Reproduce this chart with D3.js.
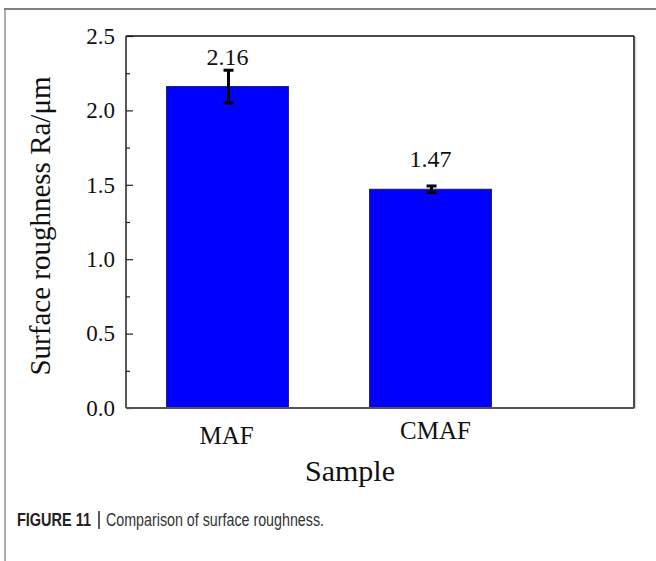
<!DOCTYPE html>
<html>
<head>
<meta charset="utf-8">
<script src="https://cdn.jsdelivr.net/npm/d3@7"></script>
<style>
  html, body { margin: 0; padding: 0; background: #fff; }
  svg { display: block; }
</style>
</head>
<body>
<svg id="chart" width="656" height="561"></svg>
<script>
// Surface roughness per finishing process (mean with error)
const categories = ["MAF", "CMAF"];
const roughness = [2.16, 1.47];
const roughnessErr = [0.11, 0.022];
const yMajorTicks = [0.0, 0.5, 1.0, 1.5, 2.0, 2.5];
const yMinorTicks = [0.25, 0.75, 1.25, 1.75, 2.25];

const svg = d3.select("#chart");
const serif = "'Liberation Serif', 'Times New Roman', serif";
const sans = "'Liberation Sans', Arial, sans-serif";

// page frame lines
svg.append("line").attr("x1", 4).attr("x2", 656).attr("y1", 9).attr("y2", 9)
  .attr("stroke", "#808080").attr("stroke-width", 2);
svg.append("line").attr("x1", 5).attr("x2", 5).attr("y1", 9).attr("y2", 561)
  .attr("stroke", "#808080").attr("stroke-width", 1.3);

const plot = { left: 126, top: 36, right: 634, bottom: 408 };

const x = d3.scaleBand()
  .domain(categories)
  .range([plot.left, plot.left + 406])
  .paddingInner(0.4)
  .paddingOuter(0.2);

const y = d3.scaleLinear().domain([0, 2.5]).range([plot.bottom, plot.top]);

const g = svg.append("g");

// bars
g.selectAll("rect.bar")
  .data(categories)
  .join("rect")
  .attr("class", "bar")
  .attr("x", d => x(d))
  .attr("width", x.bandwidth())
  .attr("y", (d, i) => y(roughness[i]))
  .attr("height", (d, i) => y(0) - y(roughness[i]))
  .attr("fill", "#0000ff")
  .attr("stroke", "#1a1a5a")
  .attr("stroke-width", 1);

// error bars
const eb = g.selectAll("g.err")
  .data(categories)
  .join("g")
  .attr("class", "err")
  .attr("transform", d => `translate(${x(d) + x.bandwidth() / 2 + 1},0)`);
eb.append("line")
  .attr("x1", 0).attr("x2", 0)
  .attr("y1", (d, i) => y(roughness[i] + roughnessErr[i]))
  .attr("y2", (d, i) => y(roughness[i] - roughnessErr[i]))
  .attr("stroke", "#000").attr("stroke-width", 3);
eb.append("line")
  .attr("x1", -5).attr("x2", 5)
  .attr("y1", (d, i) => y(roughness[i] + roughnessErr[i]))
  .attr("y2", (d, i) => y(roughness[i] + roughnessErr[i]))
  .attr("stroke", "#000").attr("stroke-width", 3);
eb.append("line")
  .attr("x1", -5).attr("x2", 5)
  .attr("y1", (d, i) => y(roughness[i] - roughnessErr[i]))
  .attr("y2", (d, i) => y(roughness[i] - roughnessErr[i]))
  .attr("stroke", "#000").attr("stroke-width", 3);

// value labels
g.selectAll("text.val")
  .data(categories)
  .join("text")
  .attr("class", "val")
  .attr("x", d => x(d) + x.bandwidth() / 2)
  .attr("y", (d, i) => y(roughness[i]) - 22)
  .attr("text-anchor", "middle")
  .attr("font-family", serif)
  .attr("font-size", 24)
  .attr("fill", "#111")
  .text((d, i) => roughness[i].toFixed(2));

// y axis, major ticks pointing inward
const yAxis = d3.axisLeft(y)
  .tickValues(yMajorTicks)
  .tickSizeInner(-7)
  .tickSizeOuter(0)
  .tickPadding(11)
  .tickFormat(d3.format(".1f"));
const ya = svg.append("g").attr("transform", `translate(${plot.left},0)`).call(yAxis);
ya.attr("font-family", serif);
ya.select(".domain").remove();
ya.selectAll(".tick line").attr("stroke", "#222").attr("stroke-width", 1.2);
ya.selectAll(".tick text")
  .attr("font-family", serif)
  .attr("font-size", 23)
  .attr("fill", "#111")
  .attr("x", -11)
  .attr("text-anchor", "end");

// y axis, minor ticks
const yMinor = d3.axisLeft(y)
  .tickValues(yMinorTicks)
  .tickSizeInner(-4)
  .tickSizeOuter(0)
  .tickFormat("");
const ym = svg.append("g").attr("transform", `translate(${plot.left},0)`).call(yMinor);
ym.select(".domain").remove();
ym.selectAll(".tick line").attr("stroke", "#222").attr("stroke-width", 1.2);

// frame around plot area
svg.append("line").attr("x1", plot.right + 1.5).attr("x2", plot.right + 1.5)
  .attr("y1", plot.top + 1).attr("y2", plot.bottom + 1)
  .attr("stroke", "#d8d8d8").attr("stroke-width", 1.5);
svg.append("line").attr("x1", plot.left).attr("x2", plot.right)
  .attr("y1", plot.top).attr("y2", plot.top).attr("stroke", "#111").attr("stroke-width", 1.5);
svg.append("line").attr("x1", plot.right).attr("x2", plot.right)
  .attr("y1", plot.top).attr("y2", plot.bottom).attr("stroke", "#111").attr("stroke-width", 1.5);
svg.append("line").attr("x1", plot.left).attr("x2", plot.left)
  .attr("y1", plot.top).attr("y2", plot.bottom).attr("stroke", "#222").attr("stroke-width", 1.5);

// x axis (category labels, no ticks)
const xAxis = d3.axisBottom(x).tickSize(0).tickPadding(0);
const xa = svg.append("g").attr("transform", `translate(0,${plot.bottom})`).call(xAxis);
xa.attr("font-family", serif);
xa.select(".domain").attr("stroke", "#555").attr("stroke-width", 1.8)
  .attr("d", `M${plot.left},0H${plot.right}`);
xa.selectAll(".tick text")
  .attr("font-family", serif)
  .attr("font-size", 25)
  .attr("fill", "#111")
  .attr("dy", null)
  .attr("y", (d, i) => i === 0 ? 36 : 31)
  .attr("dx", (d, i) => i === 0 ? -1 : 5);

// axis titles
svg.append("text")
  .attr("transform", "translate(50,226) rotate(-90)")
  .attr("text-anchor", "middle")
  .attr("font-family", serif)
  .attr("font-size", 29)
  .attr("fill", "#111")
  .text("Surface roughness Ra/μm");

svg.append("text")
  .attr("x", 350)
  .attr("y", 481)
  .attr("text-anchor", "middle")
  .attr("font-family", serif)
  .attr("font-size", 30)
  .attr("fill", "#111")
  .text("Sample");

// figure caption: bold label, divider bar, description
const capY = 526;
svg.append("text")
  .attr("x", 17).attr("y", capY)
  .attr("font-family", sans)
  .attr("font-size", 17.5)
  .attr("font-weight", "bold")
  .attr("fill", "#222")
  .attr("textLength", 74)
  .attr("lengthAdjust", "spacingAndGlyphs")
  .text("FIGURE 11");
svg.append("line")
  .attr("x1", 99).attr("x2", 99)
  .attr("y1", capY - 15).attr("y2", capY + 3)
  .attr("stroke", "#333").attr("stroke-width", 1.6);
svg.append("text")
  .attr("x", 106).attr("y", capY)
  .attr("font-family", sans)
  .attr("font-size", 17.5)
  .attr("fill", "#333")
  .attr("textLength", 218)
  .attr("lengthAdjust", "spacingAndGlyphs")
  .text("Comparison of surface roughness.");
</script>
</body>
</html>
